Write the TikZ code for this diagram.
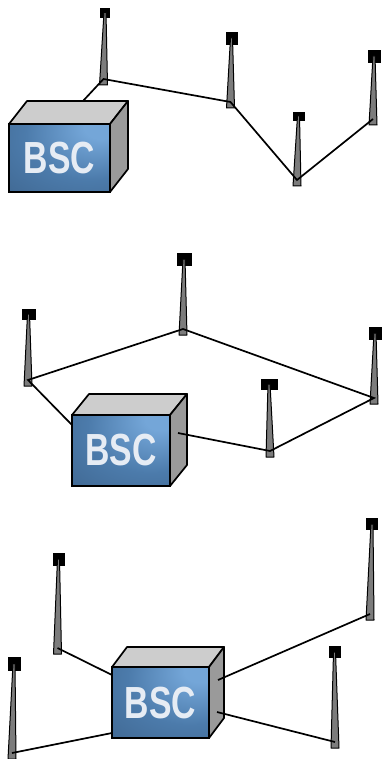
\documentclass[tikz,border=0pt]{standalone}
\usepackage{fontspec}
\newfontfamily\labelfont{Liberation Sans}
\definecolor{blue1}{HTML}{74A6D8}
\definecolor{blue2}{HTML}{4C7BAB}
\definecolor{blue3}{HTML}{375A80}
\definecolor{topgray}{HTML}{CDCDCD}
\definecolor{sidegray}{HTML}{9A9A9A}
\definecolor{mastgray}{HTML}{7C7C7C}
\definecolor{labelwhite}{HTML}{E6ECF4}
\pgfdeclareradialshading{frontshade}{\pgfpoint{22bp}{24bp}}{
  color(0bp)=(blue1); color(8bp)=(blue1); color(32bp)=(blue2); color(70bp)=(blue3); color(100bp)=(blue3)}

\begin{document}
\begin{tikzpicture}[
  x=1pt, y=-1pt,
  front/.style={draw=black, line width=1.7pt, shading=frontshade, inner sep=0pt, outer sep=0pt,
    text=labelwhite, font=\labelfont\bfseries\fontsize{45}{45}\selectfont},
  face/.style={draw=black, line width=1.7pt, line join=round},
  head/.style={draw=black, fill=black, inner sep=0pt, outer sep=0pt},
  mast/.style={draw=black, fill=mastgray, line width=1pt, line join=round},
  link/.style={draw=black, line width=1.7pt}
]
\useasboundingbox (0,0) rectangle (381,759);

% boxes
\foreach \name/\xl/\yt/\bw/\bh/\ox/\oy in {bscA/9/124/101/68/18/23, bscB/72/415/98/71/17/21, bscC/112/667/97/71/15/20} {
  \filldraw[face, fill=topgray] (\xl,\yt) -- ++(\ox,-\oy) -- ++(\bw,0) -- ++(-\ox,\oy) -- cycle;
  \filldraw[face, fill=sidegray] (\xl+\bw,\yt) -- ++(\ox,-\oy) -- ++(0,\bh) -- ++(-\ox,\oy) -- cycle;
  \node[front, anchor=north west, minimum width=\bw pt, minimum height=\bh pt] (\name) at (\xl,\yt) {\scalebox{0.75}[1]{BSC}};
}

% antennas: name, base x, base y, head x, head y, head width, head height
\foreach \name/\bx/\by/\hx/\hy/\hw/\hh in {
  antA/103.5/85/105/12.5/9/9, antB/230.5/108/231.5/38/11/12, antC/297/186/298.5/116/11/8, antD/373/125/374/56/12/12,
  antE/28/386/28.5/314/13/10, antF/183/335/184/259/14/12, antG/374/404/375/333/12/12, antH/270/457/269/384/16/10,
  antI/57.5/654/58.5/559/11/12, antJ/12/759/14/663.5/12/13, antK/370/620/372/524/11/11, antL/335/748/334.5/652/11/11} {
  \node[head, minimum width=\hw pt, minimum height=\hh pt] (\name head) at (\hx,\hy) {};
  \filldraw[mast] (\hx-1,\hy) -- (\bx-4,\by) -- (\bx+4,\by) -- (\hx+1,\hy) -- cycle;
  \coordinate (\name) at (\bx,\by-6);
}

% link ends on the boxes
\coordinate (bscAend) at (83,101);
\coordinate (bscBleft) at (72,425);
\coordinate (bscBside) at (178,433);
\coordinate (bscCleft) at (112,675);
\coordinate (bscClow) at (112,733);
\coordinate (bscCup) at (218,680);
\coordinate (bscCdown) at (217,712);

\draw[link] (bscAend) -- (antA) -- (antB) -- (antC) -- (antD);
\draw[link] (bscBleft) -- (antE) -- (antF) -- (antG) -- (antH) -- (bscBside);
\draw[link] (antI) -- (bscCleft);
\draw[link] (antJ) -- (bscClow);
\draw[link] (antK) -- (bscCup);
\draw[link] (antL) -- (bscCdown);
\end{tikzpicture}
\end{document}
